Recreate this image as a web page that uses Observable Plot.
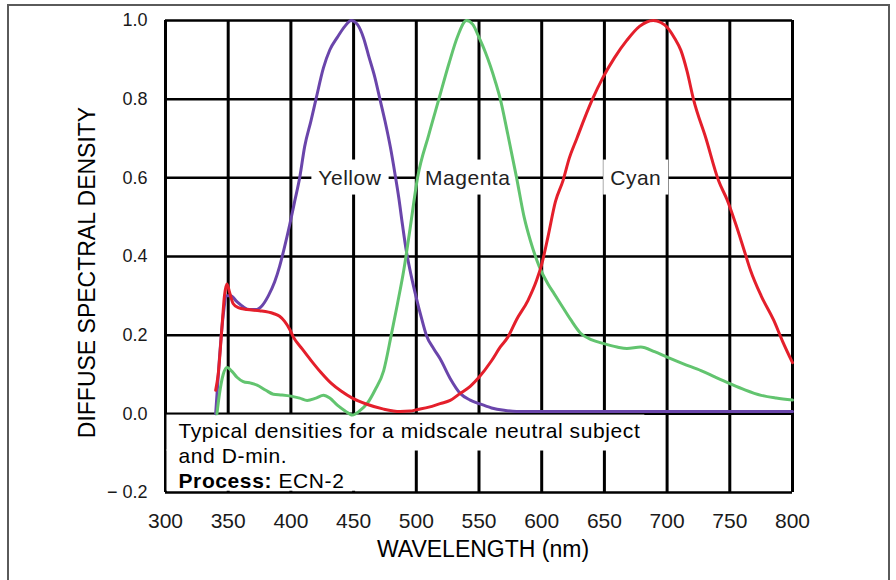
<!DOCTYPE html>
<html><head><meta charset="utf-8">
<script src="https://cdn.jsdelivr.net/npm/d3@7"></script>
<script src="https://cdn.jsdelivr.net/npm/@observablehq/plot@0.6"></script>
<style>
html,body{margin:0;padding:0;background:#fff;overflow:hidden;}
#wrap{position:relative;width:896px;height:580px;}
#border{position:absolute;left:7px;top:4px;width:879px;height:640px;border:2px solid #5a5a5a;pointer-events:none;}
</style></head><body>
<div id="wrap"><div id="chart"></div><div id="border"></div></div>
<script>
// ---- data ----
const seriesNames = ["Yellow", "Magenta", "Cyan"];
const seriesColors = ["#6a45ab", "#62c46f", "#e41f2b"];

const yellowWl = [340,343,346,349,352,357,362,367,372,377,382,387,391,395,399,403,407,411,416,420,426,431,437,443,448,453,458,462,467,471,475,479.5,483,486,489,492,496,500,504,508,514,519,527,535,543,550,560,570,580,600,700,800];
const yellowD  = [0,0.14,0.25,0.3,0.3,0.285,0.272,0.265,0.265,0.275,0.3,0.335,0.375,0.425,0.48,0.54,0.6,0.68,0.745,0.8,0.88,0.925,0.957,0.985,1.0,0.99,0.955,0.91,0.855,0.8,0.745,0.675,0.61,0.55,0.48,0.415,0.35,0.295,0.245,0.2,0.165,0.14,0.09,0.052,0.035,0.026,0.015,0.009,0.006,0.006,0.006,0.006];

const magentaWl = [341,343,346,349,353,357,362,368,373,380,386,393,400,407,413,420,426,431,437,443,449,455,461,467,474,480,485,490,495,501,510,518,526,533,540,545,550,555,559,563,567,573,580,586,591,598,605,610,615,623,631,640,649,660,668,679,690,700,713,727,738,750,762,775,787,800];
const magentaD  = [0,0.05,0.1,0.118,0.108,0.093,0.082,0.078,0.073,0.06,0.05,0.048,0.045,0.04,0.034,0.04,0.047,0.04,0.022,0.008,-0.003,0.008,0.027,0.06,0.11,0.2,0.28,0.365,0.47,0.6,0.71,0.8,0.89,0.96,1.0,0.99,0.957,0.92,0.885,0.845,0.8,0.71,0.6,0.5,0.44,0.375,0.33,0.305,0.28,0.24,0.205,0.188,0.179,0.17,0.166,0.17,0.158,0.144,0.127,0.11,0.094,0.077,0.061,0.047,0.04,0.035];

const cyanWl = [340,342,345,347,349,351,354,358,365,375,386,391,395,399,402,409,416,424,432,440,449,460,474,487,495,501,510,519,527,535,543,550,560,567,573,580,589,596,600,605,611,617,622,628,634,640.5,649,658,668,678,689,695,700,706,711,716,721,731,741,748,755,762,766.5,775,785,792,800];
const cyanD  = [0.06,0.1,0.22,0.3,0.33,0.31,0.28,0.27,0.265,0.262,0.255,0.248,0.235,0.215,0.195,0.165,0.136,0.105,0.078,0.058,0.04,0.025,0.012,0.006,0.007,0.011,0.017,0.026,0.034,0.052,0.07,0.093,0.135,0.17,0.195,0.24,0.288,0.34,0.38,0.45,0.54,0.593,0.65,0.7,0.75,0.8,0.856,0.905,0.95,0.985,1.0,0.995,0.983,0.955,0.924,0.87,0.8,0.7,0.593,0.543,0.48,0.41,0.365,0.3,0.238,0.185,0.13];

const xTicks = [300,350,400,450,500,550,600,650,700,750,800];
const yTicks = [-0.2,0,0.2,0.4,0.6,0.8,1.0];

const labelNames = ["Yellow", "Magenta", "Cyan"];
const labelWl = [447, 541, 675];
const labelD = [0.6, 0.6, 0.6];

const xTitle = "WAVELENGTH (nm)";
const yTitle = "DIFFUSE SPECTRAL DENSITY";
const captionLines = ["Typical densities for a midscale neutral subject", "and D-min.", "Process: ECN-2"];

// ---- tables ----
const curveRows = [];
[[yellowWl, yellowD], [magentaWl, magentaD], [cyanWl, cyanD]].forEach(([w, d], k) => {
  w.forEach((wl, i) => curveRows.push({series: seriesNames[k], color: seriesColors[k], wl, d: d[i]}));
});
const labelRows = labelNames.map((name, i) => ({name, wl: labelWl[i], d: labelD[i]}));

const fam = "'Liberation Sans', Arial, Helvetica, sans-serif";
const fmt1 = d3.format(".1f");
const yFmt = d => d < 0 ? "\u2212 " + fmt1(-d) : fmt1(d);

const plot = Plot.plot({
  width: 896, height: 580,
  marginLeft: 165, marginRight: 104, marginTop: 20, marginBottom: 88,
  style: {fontFamily: fam, background: "white", color: "#1a1a1a", overflow: "visible"},
  x: {domain: [300, 800], label: null},
  y: {domain: [-0.2, 1.0], label: null},
  marks: [
    Plot.gridX({ticks: xTicks, stroke: "#000", strokeOpacity: 1, strokeWidth: 3}),
    Plot.gridY({ticks: yTicks, stroke: "#000", strokeOpacity: 1, strokeWidth: 2.5}),
    Plot.axisX({ticks: xTicks, tickSize: 0, tickPadding: 21, fontSize: 21, label: null, tickFormat: d => String(d)}),
    Plot.axisY({ticks: yTicks, tickSize: 0, tickPadding: 18, fontSize: 18, label: null, tickFormat: yFmt}),
    Plot.text([yTitle], {frameAnchor: "left", textAnchor: "middle", rotate: -90, dx: -78, dy: 16, fontSize: 23, fill: "#000", text: d => d}),
    Plot.text([xTitle], {frameAnchor: "bottom", textAnchor: "middle", dx: 4, dy: 64, fontSize: 23, fill: "#000", text: d => d}),
    Plot.text(labelRows, {x: "wl", y: "d", text: "name", fontSize: 21, fill: "#222", style: "letter-spacing:0.5px"}),
    Plot.text([captionLines.join("\n")], {frameAnchor: "bottom-left", textAnchor: "start", lineAnchor: "bottom", lineHeight: 1.19, dx: 13, dy: -5, fontSize: 21, fill: "#000", text: d => d}),
    Plot.line(curveRows, {x: "wl", y: "d", stroke: "color", z: "series", strokeWidth: 3, curve: "monotone-x"})
  ]
});

document.getElementById("chart").append(plot);
const svg = plot.tagName.toLowerCase() === "svg" ? plot : plot.querySelector("svg");
const ns = "http://www.w3.org/2000/svg";
const sx = plot.scale("x"), sy = plot.scale("y");
const svgBox = svg.getBoundingClientRect();

function topGroup(el) { let n = el; while (n.parentNode && n.parentNode !== svg) n = n.parentNode; return n; }
function rel(el) { const b = el.getBoundingClientRect(); return {x: b.left - svgBox.left, y: b.top - svgBox.top, r: b.right - svgBox.left, b: b.bottom - svgBox.top}; }
function addRect(before, x0, y0, x1, y1) {
  const r = document.createElementNS(ns, "rect");
  r.setAttribute("x", x0); r.setAttribute("y", y0);
  r.setAttribute("width", Math.max(0, x1 - x0)); r.setAttribute("height", Math.max(0, y1 - y0));
  r.setAttribute("fill", "white");
  svg.insertBefore(r, before);
}

const allTexts = Array.from(svg.querySelectorAll("text"));
// letter spacing for labels and caption
allTexts.forEach(t => {
  if (labelNames.includes(t.textContent)) t.setAttribute("letter-spacing", "0.5");
  if (t.textContent.startsWith("Typical")) t.setAttribute("letter-spacing", "0.6");
});
// make "Process:" bold
allTexts.forEach(t => {
  t.querySelectorAll("tspan").forEach(ts => {
    if (ts.textContent.startsWith("Process:")) {
      const rest = ts.textContent.slice("Process:".length);
      ts.textContent = "";
      const b = document.createElementNS(ns, "tspan"); b.setAttribute("font-weight", "bold"); b.textContent = "Process:";
      const r = document.createElementNS(ns, "tspan"); r.textContent = rest;
      ts.append(b, r);
    }
  });
});

// white boxes behind series labels
allTexts.filter(t => labelNames.includes(t.textContent)).forEach(t => {
  const b = rel(t);
  addRect(topGroup(t), b.x - 7, b.y - 6, b.r + 7, b.b + 6);
});

// white box behind caption
const cap = allTexts.find(t => t.textContent.startsWith("Typical"));
if (cap) {
  const spans = Array.from(cap.children).filter(e => e.tagName.toLowerCase() === "tspan");
  const L = spans.map(rel);
  const left = sx.apply(300) + 1.5, top = sy.apply(0) + 1.25, bottom = sy.apply(-0.2) - 1.25;
  const g = topGroup(cap);
  if (L.length >= 3) {
    const mid = L[0].b + 9;
    addRect(g, left, top, L[0].r + 4, mid);
    addRect(g, left, mid - 1, Math.max(L[1].r, L[2].r) + 20, bottom);
  }
}
</script>
</body></html>
